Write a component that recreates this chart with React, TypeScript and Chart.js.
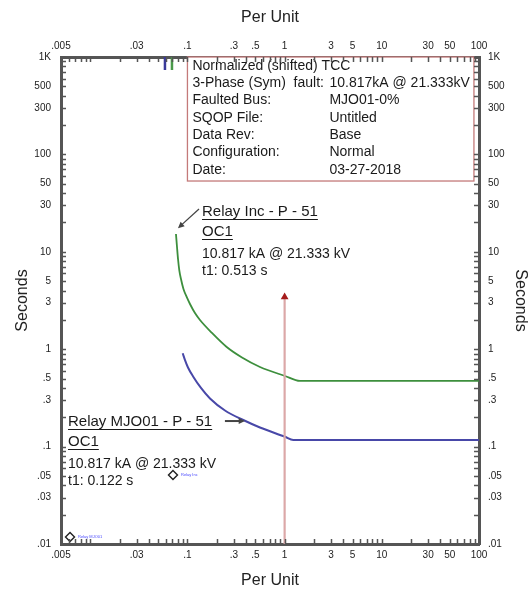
import React, { useEffect, useRef } from 'react';
import { Chart, registerables } from 'chart.js';

Chart.register(...registerables);

// ---------- axis ticks ----------
const xTickValues = [
  0.005, 0.006, 0.007, 0.008, 0.009,
  0.01, 0.02, 0.03, 0.04, 0.05, 0.06, 0.07, 0.08, 0.09,
  0.1, 0.2, 0.3, 0.4, 0.5, 0.6, 0.7, 0.8, 0.9,
  1, 2, 3, 4, 5, 6, 7, 8, 9,
  10, 20, 30, 40, 50, 60, 70, 80, 90,
  100,
];
const xLabelValues = [0.005, 0.03, 0.1, 0.3, 0.5, 1, 3, 5, 10, 30, 50, 100];
const xLabels = ['.005', '.03', '.1', '.3', '.5', '1', '3', '5', '10', '30', '50', '100'];

const yTickValues = [
  0.01, 0.02, 0.03, 0.04, 0.05, 0.06, 0.07, 0.08, 0.09,
  0.1, 0.2, 0.3, 0.4, 0.5, 0.6, 0.7, 0.8, 0.9,
  1, 2, 3, 4, 5, 6, 7, 8, 9,
  10, 20, 30, 40, 50, 60, 70, 80, 90,
  100, 200, 300, 400, 500, 600, 700, 800, 900,
  1000,
];
const yLabelValues = [0.01, 0.03, 0.05, 0.1, 0.3, 0.5, 1, 3, 5, 10, 30, 50, 100, 300, 500, 1000];
const yLabels = ['.01', '.03', '.05', '.1', '.3', '.5', '1', '3', '5', '10', '30', '50', '100', '300', '500', '1K'];

// ---------- curves ----------
const incX = [0.0762, 0.0781, 0.08, 0.0824, 0.0858, 0.091, 0.0982, 0.1062, 0.1195, 0.1346, 0.1789, 0.2534, 0.3641, 0.5575, 1.008, 1.438, 100];
const incY = [15.23, 11.2, 8.44, 6.5, 5.26, 4.15, 3.44, 2.91, 2.35, 1.995, 1.467, 1.053, 0.822, 0.657, 0.531, 0.472, 0.472];

const mjoX = [0.0894, 0.0944, 0.1013, 0.1148, 0.1378, 0.1706, 0.2434, 0.3754, 0.5575, 1.008, 1.227, 100];
const mjoY = [0.908, 0.774, 0.649, 0.522, 0.4, 0.312, 0.2348, 0.1875, 0.1571, 0.1263, 0.1169, 0.1169];

// pickup markers at top
const incPickupX = [0.0693, 0.0693];
const incPickupY = [1000, 735];
const mjoPickupX = [0.0587, 0.0587];
const mjoPickupY = [1000, 735];

// fault line
const faultX = [1, 1];
const faultY = [0.01, 3.44];

// diamonds
const diamondX = [0.071, 0.00619];
const diamondY = [0.0511, 0.0118];
const diamondTags = ['Relay Inc', 'Relay MJO01'];

// info box
const infoLabels = ['Normalized (shifted) TCC', '3-Phase (Sym)  fault:', 'Faulted Bus:', 'SQOP File:', 'Data Rev:', 'Configuration:', 'Date:'];
const infoValues = ['', '10.817kA @ 21.333kV', 'MJO01-0%', 'Untitled', 'Base', 'Normal', '03-27-2018'];
const infoBoxX = [0.1, 88.7];
const infoBoxBottomY = 53.3;

// curve labels
const incLabelLines = ['Relay Inc - P - 51', 'OC1', '10.817 kA @ 21.333 kV', 't1: 0.513 s'];
const incLabelAt = [0.1412, 25.6];
const incArrow = [0.1315, 27.5, 0.0799, 17.5];

const mjoLabelLines = ['Relay MJO01 - P - 51', 'OC1', '10.817 kA @ 21.333 kV', 't1: 0.122 s'];
const mjoLabelAt = [0.0059, 0.179];
const mjoArrow = [0.243, 0.183, 0.391, 0.183];

const FONT = '"Liberation Sans", Arial, sans-serif';
const NARROW = '"Liberation Sans Narrow", "Liberation Sans", Arial, sans-serif';
const AXIS = '#555555';

const labelFor = (vals: number[], labels: string[], v: number) => {
  const i = vals.findIndex((a) => Math.abs(a - v) / a < 1e-6);
  return i >= 0 ? labels[i] : '';
};

const pts = (xs: number[], ys: number[]) => xs.map((x, i) => ({ x, y: ys[i] }));

function arrow(ctx: CanvasRenderingContext2D, x1: number, y1: number, x2: number, y2: number) {
  const ang = Math.atan2(y2 - y1, x2 - x1);
  const head = 7;
  ctx.beginPath();
  ctx.moveTo(x1, y1);
  ctx.lineTo(x2 - Math.cos(ang) * head * 0.8, y2 - Math.sin(ang) * head * 0.8);
  ctx.stroke();
  ctx.beginPath();
  ctx.moveTo(x2, y2);
  ctx.lineTo(x2 - head * Math.cos(ang - 0.45), y2 - head * Math.sin(ang - 0.45));
  ctx.lineTo(x2 - head * Math.cos(ang + 0.45), y2 - head * Math.sin(ang + 0.45));
  ctx.closePath();
  ctx.fill();
}

const annotations = {
  id: 'tccAnnotations',
  afterDatasetsDraw(chart: any) {
    const { ctx, chartArea: a, scales } = chart;
    const sx = scales.x;
    const sy = scales.y;
    ctx.save();

    // info box
    const bl = sx.getPixelForValue(infoBoxX[0]);
    const br = sx.getPixelForValue(infoBoxX[1]);
    const bb = sy.getPixelForValue(infoBoxBottomY);
    ctx.fillStyle = '#ffffff';
    ctx.fillRect(bl, a.top, br - bl, bb - a.top);
    ctx.strokeStyle = '#c47a7a';
    ctx.lineWidth = 1.3;
    ctx.strokeRect(bl, a.top, br - bl, bb - a.top);
    ctx.fillStyle = '#1a1a1a';
    ctx.font = `14px ${FONT}`;
    ctx.textBaseline = 'middle';
    ctx.textAlign = 'left';
    infoLabels.forEach((t, i) => {
      const yy = a.top + 9 + i * 17.3;
      ctx.fillText(t, bl + 5, yy);
      if (infoValues[i]) ctx.fillText(infoValues[i], bl + 142, yy);
    });

    // curve labels
    const offs = [0, 20, 42, 59];
    const drawLabel = (lines: string[], at: number[]) => {
      const lx = sx.getPixelForValue(at[0]);
      const ly = sy.getPixelForValue(at[1]);
      ctx.fillStyle = '#1a1a1a';
      ctx.strokeStyle = '#1a1a1a';
      ctx.lineWidth = 1;
      lines.forEach((t, i) => {
        const yy = ly + offs[i];
        ctx.font = i < 2 ? `15px ${FONT}` : `14px ${FONT}`;
        ctx.fillText(t, lx, yy);
        if (i < 2) {
          const w = ctx.measureText(t).width;
          ctx.beginPath();
          ctx.moveTo(lx, Math.round(yy + 7) + 0.5);
          ctx.lineTo(lx + w, Math.round(yy + 7) + 0.5);
          ctx.stroke();
        }
      });
    };
    drawLabel(incLabelLines, incLabelAt);
    drawLabel(mjoLabelLines, mjoLabelAt);

    // arrows
    ctx.strokeStyle = '#444444';
    ctx.fillStyle = '#444444';
    ctx.lineWidth = 1.3;
    arrow(ctx, sx.getPixelForValue(incArrow[0]), sy.getPixelForValue(incArrow[1]), sx.getPixelForValue(incArrow[2]), sy.getPixelForValue(incArrow[3]));
    ctx.lineWidth = 2;
    arrow(ctx, sx.getPixelForValue(mjoArrow[0]), sy.getPixelForValue(mjoArrow[1]), sx.getPixelForValue(mjoArrow[2]), sy.getPixelForValue(mjoArrow[3]));

    // tiny tags next to diamonds
    ctx.font = `4px ${FONT}`;
    ctx.fillStyle = '#4a4aff';
    diamondTags.forEach((t, i) => {
      ctx.fillText(t, sx.getPixelForValue(diamondX[i]) + 8, sy.getPixelForValue(diamondY[i]));
    });
    ctx.restore();
  },
  afterDraw(chart: any) {
    const { ctx, chartArea: a, scales } = chart;
    ctx.save();
    ctx.strokeStyle = AXIS;
    ctx.lineWidth = 1.5;
    const L = 5;
    ctx.beginPath();
    xTickValues.forEach((v) => {
      const p = Math.round(scales.x.getPixelForValue(v)) + 0.5;
      ctx.moveTo(p, a.bottom);
      ctx.lineTo(p, a.bottom - L);
      ctx.moveTo(p, a.top);
      ctx.lineTo(p, a.top + L);
    });
    yTickValues.forEach((v) => {
      const p = Math.round(scales.y.getPixelForValue(v)) + 0.5;
      ctx.moveTo(a.left, p);
      ctx.lineTo(a.left + L, p);
      ctx.moveTo(a.right, p);
      ctx.lineTo(a.right - L, p);
    });
    ctx.stroke();
    ctx.restore();
  },
};

const tickFont = { family: NARROW, size: 10 };
const titleFont = { family: FONT, size: 16 };

function xScale(position: 'top' | 'bottom', size: number, titlePad: any) {
  return {
    type: 'logarithmic',
    position,
    min: 0.005,
    max: 100,
    afterBuildTicks: (s: any) => {
      s.ticks = xTickValues.map((v) => ({ value: v }));
    },
    afterFit: (s: any) => {
      s.height = size;
    },
    ticks: {
      autoSkip: false,
      maxRotation: 0,
      minRotation: 0,
      padding: 5,
      color: '#222',
      font: tickFont,
      callback: (v: any) => labelFor(xLabelValues, xLabels, Number(v)),
    },
    grid: { display: false, drawTicks: false },
    border: { display: true, color: AXIS, width: 3 },
    title: { display: true, text: 'Per Unit', color: '#222', font: titleFont, padding: titlePad },
  };
}

function yScale(position: 'left' | 'right', size: number, pad: number, titlePad: any) {
  return {
    type: 'logarithmic',
    position,
    min: 0.01,
    max: 1000,
    afterBuildTicks: (s: any) => {
      s.ticks = yTickValues.map((v) => ({ value: v }));
    },
    afterFit: (s: any) => {
      s.width = size;
    },
    ticks: {
      autoSkip: false,
      padding: pad,
      color: '#222',
      font: tickFont,
      callback: (v: any) => labelFor(yLabelValues, yLabels, Number(v)),
    },
    grid: { display: false, drawTicks: false },
    border: { display: true, color: AXIS, width: 3 },
    title: { display: true, text: 'Seconds', color: '#222', font: titleFont, padding: titlePad },
  };
}

export default function App() {
  const ref = useRef<HTMLCanvasElement>(null);
  useEffect(() => {
    const chart = new Chart(ref.current as HTMLCanvasElement, {
      type: 'scatter',
      data: {
        datasets: [
          {
            label: 'Fault',
            data: pts(faultX, faultY),
            showLine: true,
            borderColor: '#dca8a8',
            borderWidth: 2.2,
            pointRadius: [0, 4.5],
            pointStyle: 'triangle',
            pointBackgroundColor: '#a51c1c',
            pointBorderColor: '#a51c1c',
            pointBorderWidth: 0,
          },
          {
            label: 'Relay Inc - P - 51',
            data: pts(incX, incY),
            showLine: true,
            borderColor: '#3d8f3d',
            borderWidth: 1.8,
            pointRadius: 0,
            cubicInterpolationMode: 'monotone',
          },
          {
            label: 'Relay MJO01 - P - 51',
            data: pts(mjoX, mjoY),
            showLine: true,
            borderColor: '#4848a8',
            borderWidth: 2,
            pointRadius: 0,
            cubicInterpolationMode: 'monotone',
          },
          {
            label: 'Inc pickup',
            data: pts(incPickupX, incPickupY),
            showLine: true,
            borderColor: '#4a9a4a',
            borderWidth: 2.5,
            pointRadius: 0,
          },
          {
            label: 'MJO01 pickup',
            data: pts(mjoPickupX, mjoPickupY),
            showLine: true,
            borderColor: '#3a3a9a',
            borderWidth: 2.5,
            pointRadius: 0,
          },
          {
            label: 'Markers',
            data: pts(diamondX, diamondY),
            showLine: false,
            pointStyle: 'rectRot',
            pointRadius: 4.5,
            pointBackgroundColor: '#ffffff',
            pointBorderColor: '#222222',
            pointBorderWidth: 1.4,
          },
        ] as any,
      },
      options: {
        responsive: false,
        animation: false,
        devicePixelRatio: 1,
        layout: { padding: 0 },
        plugins: { legend: { display: false }, tooltip: { enabled: false } },
        scales: {
          x: xScale('bottom', 48, { bottom: 2 }),
          x2: xScale('top', 57, { top: 8 }),
          y: yScale('left', 61, 10, { top: 13 }),
          y2: yScale('right', 51, 9, { top: 0 }),
        } as any,
      },
      plugins: [annotations],
    });
    return () => chart.destroy();
  }, []);
  return (
    <div style={{ position: 'fixed', left: 0, top: 0, width: 530, height: 592, background: '#ffffff' }}>
      <canvas ref={ref} width={530} height={592} style={{ display: 'block', width: 530, height: 592 }} />
    </div>
  );
}
